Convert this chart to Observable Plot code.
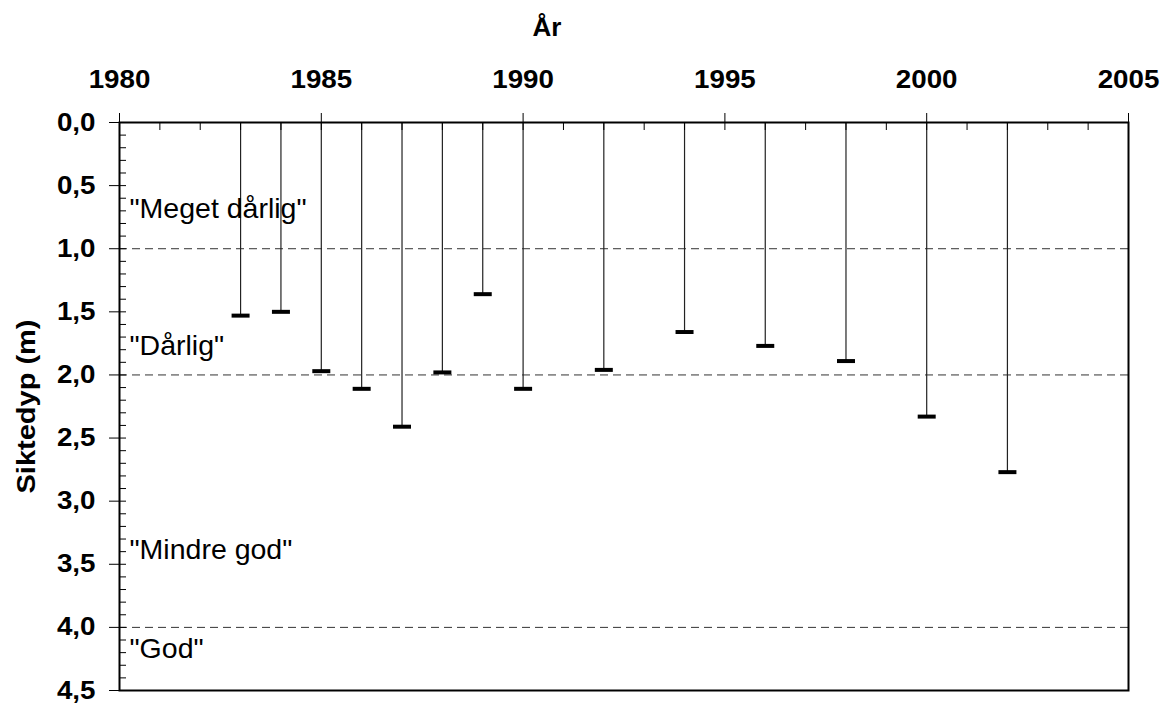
<!DOCTYPE html>
<html><head><meta charset="utf-8">
<script src="https://cdn.jsdelivr.net/npm/d3@7"></script>
<script src="https://cdn.jsdelivr.net/npm/@observablehq/plot@0.6"></script>
<style>
body{margin:0;background:#fff;font-family:"Liberation Sans",Arial,sans-serif;}
#title{height:46px;width:1094px;text-align:center;font-weight:bold;font-size:26px;line-height:1;padding-top:14px;box-sizing:border-box;color:#000;}
</style></head><body>
<div id="title">År</div>
<div id="chart"></div>
<script>
// Data
const years = [1983,1984,1985,1986,1987,1988,1989,1990,1992,1994,1996,1998,2000,2002];
const depths = [1.53,1.50,1.97,2.11,2.41,1.98,1.36,2.11,1.96,1.66,1.77,1.89,2.33,2.77];
const xTicks = [1980,1985,1990,1995,2000,2005];
const yTicks = [0,0.5,1,1.5,2,2.5,3,3.5,4,4.5];
const yTickLabels = ["0,0","0,5","1,0","1,5","2,0","2,5","3,0","3,5","4,0","4,5"];
const classNames = ['"Meget dårlig"','"Dårlig"','"Mindre god"','"God"'];
const classLabelDepths = [0.754,1.84,3.46,4.24];
const classLimits = [1,2,4];
const xMinorTicks = d3.range(1980,2006,1);
const yMinorTicks = d3.range(0,46,1).map(d=>d/10);

const data = years.map((year,i)=>({year, depth: depths[i]}));
const capSymbol = {draw(ctx){ ctx.rect(-9,-2,18,4); }};
const font = "Liberation Sans, Arial, sans-serif";

const chart = Plot.plot({
  width: 1170,
  height: 658,
  marginTop: 76,
  marginBottom: 14,
  marginLeft: 119,
  marginRight: 42,
  style: {fontFamily: font, fontSize: "25px", color: "#000", background: "#fff", overflow: "visible"},
  x: {domain: [1980, 2005]},
  y: {domain: [0, 4.5], reverse: true},
  marks: [
    Plot.ruleY(classLimits, {stroke: "#333", strokeWidth: 1, strokeDasharray: "8,5"}),
    Plot.ruleX(data, {x: "year", y1: 0, y2: "depth", stroke: "#222", strokeWidth: 1.2}),
    Plot.dot(data, {x: "year", y: "depth", symbol: capSymbol, fill: "#000", stroke: "none"}),
    Plot.text(classNames, {x: 1980, y: (d,i) => classLabelDepths[i], text: d => d, textAnchor: "start", lineAnchor: "bottom", dx: 10, fontSize: 28.5, fontWeight: "normal", fill: "#000"}),
    Plot.axisX(xTicks, {anchor: "top", tickSize: 10, tickPadding: 25, fontSize: 25, fontWeight: "bold", label: null, tickFormat: d => String(d)}),
    Plot.axisX(xMinorTicks, {anchor: "top", tickSize: -7, tickFormat: () => "", label: null}),
    Plot.axisY(yTicks, {anchor: "left", tickSize: 10, tickPadding: 14, fontSize: 25, fontWeight: "bold",
      tickFormat: d => yTickLabels[yTicks.indexOf(d)],
      label: "Siktedyp (m)", labelAnchor: "center", labelArrow: "none", labelOffset: 102}),
    Plot.axisY(yMinorTicks, {anchor: "left", tickSize: -7, tickFormat: () => "", label: null}),
    Plot.frame({stroke: "#000", strokeWidth: 2})
  ]
});
document.getElementById("chart").appendChild(chart);

// The reference uses slightly wide lettering: stretch glyphs horizontally
function stretch(selector, k) {
  chart.querySelectorAll(selector).forEach(t => {
    const w = t.getComputedTextLength();
    if (w > 0) {
      t.setAttribute("textLength", (w * k).toFixed(1));
      t.setAttribute("lengthAdjust", "spacingAndGlyphs");
    }
  });
}
stretch('g[aria-label="x-axis tick label"] text', 1.11);
stretch('g[aria-label="y-axis tick label"] text', 1.11);
stretch('g[aria-label="y-axis label"] text', 1.16);
</script>
</body></html>
